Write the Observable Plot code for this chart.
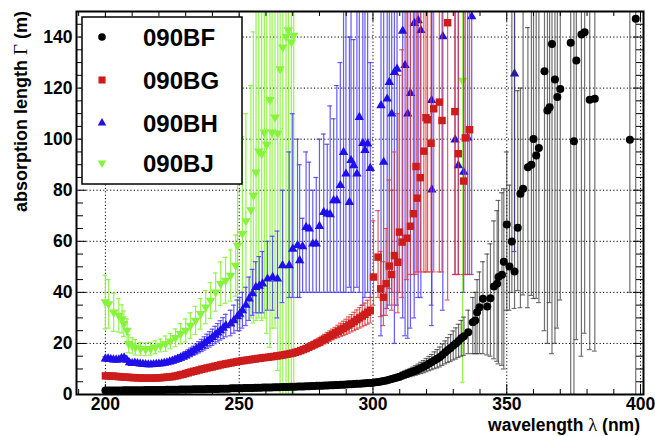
<!DOCTYPE html>
<html><head><meta charset="utf-8">
<script src="https://cdn.jsdelivr.net/npm/d3@7"></script>
<script src="https://cdn.jsdelivr.net/npm/@observablehq/plot@0.6"></script>
<style>body{margin:0;background:#fff}</style>
</head><body><div id="chart"></div>
<script>
// ---------- data ----------
const seriesNames = ["090BF", "090BG", "090BH", "090BJ"];
const xMajorTicks = [200, 250, 300, 350, 400];
const yMajorTicks = [0, 20, 40, 60, 80, 100, 120, 140];
const xMinorTicks = [190, 210, 220, 230, 240, 260, 270, 280, 290, 310, 320, 330, 340, 360, 370, 380, 390];
const yMinorTicks = [5, 10, 15, 25, 30, 35, 45, 50, 55, 65, 70, 75, 85, 90, 95, 105, 110, 115, 125, 130, 135, 145, 150];

// 090BF smooth part, 1 nm steps from 200 nm
const bfSmoothWl = d3.range(200, 335);
const bfSmoothVal = [
1.6,1.6,1.6,1.6,1.6,1.6,1.6,1.7,1.7,1.7,
1.7,1.7,1.7,1.7,1.7,1.8,1.8,1.8,1.8,1.8,
1.8,1.8,1.8,1.9,1.9,1.9,1.9,1.9,2.0,2.0,
2.0,2.0,2.0,2.1,2.1,2.1,2.1,2.1,2.2,2.2,
2.2,2.2,2.2,2.3,2.3,2.3,2.3,2.4,2.4,2.4,
2.4,2.4,2.5,2.5,2.5,2.5,2.6,2.6,2.6,2.7,
2.7,2.7,2.7,2.8,2.8,2.8,2.9,2.9,2.9,3.0,
3.0,3.0,3.1,3.1,3.1,3.2,3.2,3.3,3.3,3.4,
3.4,3.4,3.5,3.5,3.6,3.6,3.7,3.7,3.8,3.8,
3.9,4.0,4.0,4.1,4.2,4.2,4.3,4.4,4.5,4.5,
4.6,4.8,4.9,5.1,5.3,5.5,5.8,6.1,6.4,6.7,
7.0,7.4,7.8,8.2,8.6,9.0,9.4,9.9,10.4,10.9,
11.5,12.1,12.7,13.4,14.0,14.7,15.6,16.5,17.4,18.2,
19.2,20.0,21.0,22.0,22.8];
const bfSmoothErr = [
0.2,0.2,0.2,0.2,0.2,0.2,0.2,0.2,0.2,0.2,
0.2,0.2,0.2,0.2,0.2,0.2,0.2,0.2,0.2,0.2,
0.2,0.2,0.2,0.2,0.2,0.2,0.2,0.2,0.2,0.2,
0.2,0.2,0.2,0.2,0.2,0.2,0.2,0.2,0.2,0.2,
0.2,0.2,0.2,0.2,0.2,0.2,0.2,0.2,0.2,0.2,
0.2,0.2,0.2,0.2,0.2,0.2,0.2,0.2,0.2,0.2,
0.2,0.2,0.2,0.2,0.2,0.2,0.2,0.2,0.2,0.2,
0.2,0.2,0.2,0.2,0.2,0.2,0.2,0.2,0.2,0.2,
0.2,0.2,0.2,0.2,0.2,0.2,0.2,0.2,0.2,0.2,
0.3,0.3,0.3,0.3,0.4,0.4,0.4,0.4,0.5,0.5,
0.5,0.6,0.6,0.7,0.7,0.8,0.8,0.9,1.0,1.1,
1.2,1.3,1.4,1.5,1.6,1.7,1.9,2.0,2.2,2.4,
2.6,2.8,3.0,3.3,3.6,3.9,4.2,4.5,4.9,5.3,
5.7,6.1,6.5,7.0,7.5];
// 090BF scattered part
const bfScatWl  = [335.6,337.3,338.2,338.9,339.8,341.1,342.7,343.9,345.2,346.4,346.9,348.2,348.9,350.0,351.0,351.9,352.9,354.1,355.1,356.1,357.9,359.2,360.0,361.0,362.0,364.1,365.2,366.0,366.9,368.0,368.9,370.0,373.9,375.1,376.0,377.9,379.1,381.0,382.9,396.0,398.2];
const bfScatVal = [24.4,28.3,29.0,32.2,34.2,37.5,34.5,37.7,42.3,43.4,46.0,46.9,52.0,66.6,50.1,59.9,48.2,65.3,78.6,80.6,89.0,90.0,100.1,93.6,96.5,126.6,111.2,112.5,137.3,123.4,116.5,119.6,137.8,99.2,130.8,141.0,141.9,115.4,115.8,99.8,147.2];
const bfScatLo  = [16,16,16,16,16,16,15.5,15,14,13,12,11.4,10,33,33,40,33.7,40.7,34,39,34,38.8,37.6,37.6,36,25,20,36,16,20,26,37,-5,-5,21.5,15,24,17.6,17,40,-5];
const bfScatHi  = [33,38,40,45,48,52,55,59,68,72,76,79,80.6,95,82,160,160,119,120,160,143.7,160,160,160,160,160,160,160,160,160,160,160,160,160,160,160,160,160,160,160,160];

// 090BG smooth part, 1 nm steps from 200 nm
const bgSmoothWl = d3.range(200, 300);
const bgSmoothVal = [
7.3,7.3,7.2,7.2,7.1,7.0,6.9,6.8,6.8,6.7,
6.6,6.6,6.5,6.5,6.4,6.4,6.4,6.4,6.4,6.5,
6.5,6.6,6.7,6.8,6.9,7.0,7.2,7.4,7.7,7.9,
8.2,8.5,8.8,9.1,9.3,9.6,9.9,10.1,10.4,10.6,
10.8,11.1,11.3,11.6,11.8,12.0,12.2,12.4,12.6,12.8,
13.0,13.2,13.3,13.5,13.6,13.8,13.9,14.1,14.2,14.4,
14.5,14.6,14.8,14.9,15.1,15.2,15.4,15.6,15.8,16.0,
16.2,16.5,16.8,17.2,17.6,18.0,18.5,19.0,19.5,20.0,
20.5,21.1,21.7,22.3,22.9,23.5,24.1,24.7,25.3,25.9,
26.5,27.2,27.9,28.6,29.3,30.0,30.7,31.4,32.2,33.0];
const bgSmoothErr = [
0.5,0.5,0.5,0.5,0.5,0.5,0.5,0.5,0.5,0.5,
0.5,0.5,0.5,0.5,0.5,0.5,0.5,0.5,0.5,0.5,
0.5,0.5,0.5,0.5,0.5,0.5,0.5,0.5,0.5,0.5,
0.5,0.5,0.5,0.5,0.5,0.5,0.5,0.5,0.5,0.5,
0.5,0.5,0.5,0.5,0.5,0.5,0.5,0.5,0.5,0.5,
0.5,0.5,0.5,0.5,0.5,0.5,0.5,0.5,0.5,0.5,
0.5,0.5,0.5,0.5,0.5,0.5,0.5,0.5,0.5,0.5,
0.6,0.7,0.8,0.9,1.0,1.1,1.2,1.3,1.4,1.5,
1.6,1.7,1.8,1.9,2.0,2.1,2.2,2.4,2.6,2.8,
3.0,3.2,3.4,3.6,3.8,4.0,4.2,4.4,4.7,5.0];
const bgScatWl  = [300.2,301.9,302.9,303.9,304.9,306.1,307.0,308.0,309.3,309.9,310.9,312.7,314.0,315.1,316.1,316.5,317.7,319.0,319.8,320.4,321.7,322.7,324.8,325.8,327.9,330.6,331.9,333.9,334.5,336.1];
const bgScatVal = [46,53.8,41.4,38.1,43.4,50.3,47,54.4,51.8,63.6,59.7,61.2,65.9,70.8,89.3,76.9,84.9,95.3,108.4,107.6,98.4,111.9,114.5,107.3,145.6,110.8,94.3,83.6,100.5,103.7];
const bgScatLo  = [35,38,30.5,27,31,41.5,33,35,32,40,38,45,47,47,47,48,48,48,48,48,48,48,48,48,37,47,47,47,47,47];
const bgScatHi  = [68,72,56,52,65,84,80,95,110,125,135,160,160,160,160,160,160,160,160,160,160,160,160,160,160,160,160,160,160,160];

// 090BH smooth part, 1 nm steps from 200 nm
const bhSmoothWl = d3.range(200, 246);
const bhSmoothVal = [
14.0,14.0,13.8,13.6,13.6,13.6,14.2,14.4,13.5,12.5,
12.2,12.4,12.2,12.0,11.9,11.8,11.7,11.7,11.8,11.9,
12.0,12.1,12.3,12.5,12.8,13.1,13.5,13.9,14.3,14.8,
15.3,15.9,16.5,17.1,17.8,18.5,19.2,20.0,20.8,21.6,
22.4,23.3,24.2,25.1,26.0,27.0];
const bhSmoothErr = [
0.8,0.8,0.8,0.8,0.8,0.8,0.8,0.8,0.8,0.8,
0.8,0.8,0.8,0.8,0.8,0.8,0.8,0.8,0.8,0.8,
0.8,0.8,0.8,0.8,0.8,1.0,1.1,1.2,1.3,1.4,
1.5,1.6,1.7,1.8,2.0,2.2,2.4,2.6,2.8,3.0,
3.2,3.4,3.6,3.8,4.1,4.4];
const bhScatWl  = [246.8,248.0,249.3,250.2,251.2,252.5,253.7,255.0,256.2,257.5,258.7,260.6,262.5,264.3,266.2,268.7,270.0,271.8,272.6,273.7,275.0,276.2,277.5,278.8,280.0,281.6,282.9,284.0,285.3,286.5,287.8,289.0,289.9,291.2,291.8,292.8,294.0,294.9,296.2,297.0,298.0,299.0,303.0,304.0,305.3,306.1,307.0,308.0,309.0,311.1,312.0,313.0,314.0,315.4,316.9,317.9,321.9,322.0,326.1,330.7,331.9,333.9,335.4,336.9,352.9];
const bhScatVal = [27.7,29.0,30.5,31.5,32.9,35.0,37.5,39.5,42.0,42.5,43.4,45.3,45.9,45.3,50.5,50.5,57.0,58.4,52.5,58.0,65.5,64.9,59.0,59.0,65.9,71.4,70.8,70.5,76.0,76.0,81.9,94.9,86.4,75.3,91.7,89.7,86.4,108.6,98.4,95.6,98.2,88.6,113.2,91.0,115.8,122.3,109.9,126.2,127.5,142.4,128.9,109.9,118.0,145.4,146.5,142.6,115.2,80.2,140.2,99.8,89.7,87.1,100.5,148.0,125.6];
const bhScatLo  = [23,24,25,25,26,27,29,31,32,32,32,33,33,30,36,38,38,38,38,40,40,40,40,40,40,40,40,40,40,40,40,40,40,42,40,40,42,40,35,38,40,38,23,31,33.7,35,40,20,35,30,23,22,26,30,38,38,35,27,33,47,47,40,47,47,56];
const bhScatHi  = [33,35,37,38,40,42,46,49,52,54,56,60,62,64,80,95,110,100,90,69,95,91,80,85,100,102,98,113,108,121,130,160,160,140,160,139,160,160,160,160,160,130,160,160,160,160,160,160,160,160,160,160,160,160,160,160,160,160,160,160,160,160,160,160,160];

// 090BJ
const bjWl  = [200.0,201.2,203.1,205.0,206.2,206.9,208.1,208.7,210.0,211.2,213.1,215.0,216.9,218.7,220.6,222.5,224.3,226.2,228.1,230.0,231.8,233.7,235.6,237.5,239.3,241.2,243.1,244.9,246.8,248.7,249.4,251.2,252.5,254.4,255.3,256.3,257.3,258.4,259.4,260.3,261.5,262.3,263.4,264.4,265.3,266.3,267.5,268.4,269.5,270.4,333.5];
const bjVal = [36.2,35.5,32.2,31.0,29.6,27.7,25.1,19.9,19.2,18.5,17.9,17.7,17.9,18.5,19.2,19.9,20.9,22.2,23.8,25.1,27.0,29.0,31.6,34.2,36.8,40.1,43.4,44.7,46.6,50.5,58.4,63.0,68.0,72.3,77.9,87.1,95.3,94.3,102.7,97.9,115.4,102.7,108.6,102.3,127.5,136.0,140.2,142.8,138.0,140.6,123.0];
const bjLo  = [25.7,26.0,24.7,24.5,24.1,22.7,20.6,16.4,16.2,15.5,15.4,15.2,15.4,16.0,16.7,16.9,17.9,18.7,19.8,20.6,22.0,23.5,25.6,27.7,29.8,32.6,34.9,35.7,36.6,38.5,29,30,33,30,28,29,30,29,30,24,18.5,26,26,9.4,-5,-5,-5,-5,-5,-5,4.8];
const bjHi  = [46.7,45.0,39.7,37.5,35.1,32.7,29.6,23.4,22.2,21.5,20.4,20.2,20.4,21.0,21.7,22.9,23.9,25.7,27.8,29.6,32.0,34.5,37.6,40.7,43.8,47.6,51.9,53.7,56.6,62.5,91,101,110,121,142,160,160,160,160,160,160,160,160,160,160,160,160,160,160,160,160];

// ---------- build rows ----------
function smoothRows(wl, val, err) { return val.map((v, i) => ({wl: wl[i], v, lo: v - err[i], hi: v + err[i]})); }
function scatRows(wl, val, lo, hi) { return val.map((v, i) => ({wl: wl[i], v, lo: lo[i], hi: hi[i]})); }
const bf = smoothRows(bfSmoothWl, bfSmoothVal, bfSmoothErr).concat(scatRows(bfScatWl, bfScatVal, bfScatLo, bfScatHi));
const bg = smoothRows(bgSmoothWl, bgSmoothVal, bgSmoothErr).concat(scatRows(bgScatWl, bgScatVal, bgScatLo, bgScatHi));
const bh = smoothRows(bhSmoothWl, bhSmoothVal, bhSmoothErr).concat(scatRows(bhScatWl, bhScatVal, bhScatLo, bhScatHi));
const bj = scatRows(bjWl, bjVal, bjLo, bjHi);

const W = 655, H = 436, mL = 76, mR = 12, mT = 11, mB = 42;
const plotW = W - mL - mR, plotH = H - mT - mB;

const styles = {
  bf: {fill: "#000000", bar: "#333333", op: 0.7, symbol: "circle", r: 4, rotate: 0},
  bg: {fill: "#cc1c1c", bar: "#e03434", op: 0.8, symbol: "square", r: 4.2, rotate: 0},
  bh: {fill: "#1f0fe8", bar: "#4a3cff", op: 0.85, symbol: "triangle", r: 3.5, rotate: 0},
  bj: {fill: "#86f43a", bar: "#86f43a", op: 0.9, symbol: "triangle", r: 3.5, rotate: 180}
};

function seriesMarks(rows, s) {
  return [
    Plot.ruleX(rows, {x: "wl", y1: "lo", y2: "hi", stroke: s.bar, strokeOpacity: s.op, strokeWidth: 1.2, clip: true}),
    Plot.ruleY(rows, {y: "lo", x1: d => d.wl - 0.9, x2: d => d.wl + 0.9, stroke: s.bar, strokeOpacity: s.op, strokeWidth: 1.2, clip: true}),
    Plot.ruleY(rows, {y: "hi", x1: d => d.wl - 0.9, x2: d => d.wl + 0.9, stroke: s.bar, strokeOpacity: s.op, strokeWidth: 1.2, clip: true}),
    Plot.dot(rows, {x: "wl", y: "v", symbol: s.symbol, r: s.r, fill: s.fill, stroke: "none", rotate: s.rotate, clip: true})
  ];
}

const font = "'Liberation Sans', Arial, Helvetica, sans-serif";
const plot = Plot.plot({
  width: W, height: H,
  marginLeft: mL, marginRight: mR, marginTop: mT, marginBottom: mB,
  style: {fontFamily: font, fontSize: "17px", fontWeight: "bold", background: "#fff", overflow: "visible"},
  x: {domain: [189.2, 401.1]},
  y: {domain: [0, 150]},
  marks: [
    Plot.ruleX(xMajorTicks, {x: d => d, stroke: "#000", strokeDasharray: "1.2,2.2", strokeWidth: 1}),
    Plot.ruleY(yMajorTicks.filter(d => d > 0), {y: d => d, stroke: "#000", strokeDasharray: "1.2,2.2", strokeWidth: 1}),
    ...seriesMarks(bj, styles.bj),
    ...seriesMarks(bh, styles.bh),
    ...seriesMarks(bg, styles.bg),
    ...seriesMarks(bf, styles.bf),
    // inward ticks
    Plot.tickX(xMajorTicks, {x: d => d, insetTop: plotH - 10, stroke: "#000"}),
    Plot.tickX(xMajorTicks, {x: d => d, insetBottom: plotH - 10, stroke: "#000"}),
    Plot.tickX(xMinorTicks, {x: d => d, insetTop: plotH - 5, stroke: "#000"}),
    Plot.tickX(xMinorTicks, {x: d => d, insetBottom: plotH - 5, stroke: "#000"}),
    Plot.tickY(yMajorTicks, {y: d => d, insetRight: plotW - 10, stroke: "#000"}),
    Plot.tickY(yMajorTicks, {y: d => d, insetLeft: plotW - 10, stroke: "#000"}),
    Plot.tickY(yMinorTicks, {y: d => d, insetRight: plotW - 7, stroke: "#000"}),
    Plot.tickY(yMinorTicks, {y: d => d, insetLeft: plotW - 7, stroke: "#000"}),
    Plot.axisX({ticks: xMajorTicks, tickSize: 0, tickPadding: 3, label: null, tickFormat: d => String(d), fontSize: 17.5, fontWeight: "bold"}),
    Plot.axisY({ticks: yMajorTicks, tickSize: 0, tickPadding: 4, label: null, tickFormat: d => String(d), fontSize: 17.5, fontWeight: "bold"}),
    Plot.frame({stroke: "#000", strokeWidth: 2})
  ]
});

const svg = d3.select(plot);
// axis titles
const yt = svg.append("text")
  .attr("transform", "translate(27,11) rotate(-90)")
  .attr("text-anchor", "end")
  .attr("font-family", font).attr("font-weight", "bold").attr("font-size", 18).attr("fill", "#000");
yt.append("tspan").text("absorption length ");
yt.append("tspan").attr("font-family", "'Liberation Serif', 'DejaVu Serif', serif").attr("font-weight", "normal").attr("font-size", 19).text("Γ");
yt.append("tspan").text(" (m)");

const xt = svg.append("text")
  .attr("x", 640).attr("y", 431)
  .attr("text-anchor", "end")
  .attr("font-family", font).attr("font-weight", "bold").attr("font-size", 17.5).attr("fill", "#000");
xt.append("tspan").text("wavelength ");
xt.append("tspan").attr("font-family", "'Liberation Serif', 'DejaVu Serif', serif").attr("font-weight", "normal").attr("font-size", 18.5).text("λ");
xt.append("tspan").text(" (nm)");

// legend
const lg = svg.append("g");
lg.append("rect").attr("x", 82).attr("y", 17).attr("width", 160).attr("height", 167)
  .attr("fill", "#fff").attr("stroke", "#000").attr("stroke-width", 1.5);
const legendRows = [37, 80, 123, 163];
const legendSym = [
  {type: d3.symbolCircle, r: 3.8, fill: styles.bf.fill, rot: 0},
  {type: d3.symbolSquare, r: 4, fill: styles.bg.fill, rot: 0},
  {type: d3.symbolTriangle, r: 3.2, fill: styles.bh.fill, rot: 0},
  {type: d3.symbolTriangle, r: 3.2, fill: styles.bj.fill, rot: 180}
];
seriesNames.forEach((name, i) => {
  const y = legendRows[i], s = legendSym[i];
  lg.append("path").attr("d", d3.symbol(s.type, Math.PI * s.r * s.r)())
    .attr("transform", `translate(102,${y}) rotate(${s.rot})`).attr("fill", s.fill);
  lg.append("text").attr("x", 143).attr("y", y + 8.6).attr("text-anchor", "start")
    .attr("font-family", font).attr("font-weight", "bold").attr("font-size", 24).attr("fill", "#000")
    .text(name);
});

document.getElementById("chart").appendChild(plot);
</script>
</body></html>
